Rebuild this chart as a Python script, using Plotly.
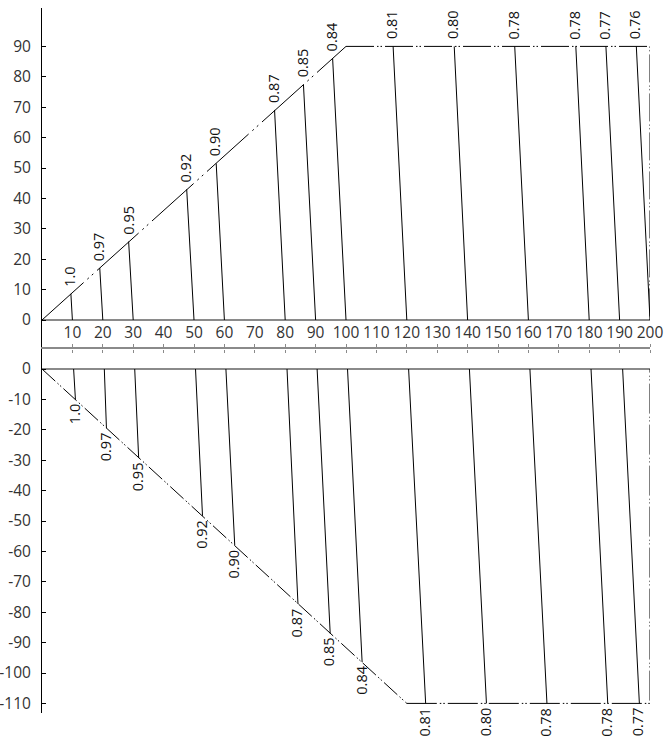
import plotly.graph_objects as go

# ---------------- data ----------------
# upper diagram: outline and rays (tip on outline -> base on x axis)
top_outline_x = [0, 100, 200, 200]
top_outline_y = [0, 90, 90, 0]
top_labels = ["1.0", "0.97", "0.95", "0.92", "0.90", "0.87", "0.85", "0.84",
              "0.81", "0.80", "0.78", "0.78", "0.77", "0.76"]
top_base_x = [10, 20, 30, 50, 60, 80, 90, 100, 120, 140, 160, 180, 190, 200]
top_tip_x = [9.5, 19.0, 28.5, 47.6, 57.3, 76.5, 86.0, 95.6,
             115.5, 135.6, 155.5, 175.6, 185.5, 195.5]
top_tip_y = [8.6, 17.1, 25.8, 43.0, 51.5, 69.1, 77.5, 86.1,
             90, 90, 90, 90, 90, 90]

# lower diagram
bot_outline_x = [0, 120, 200, 200]
bot_outline_y = [0, -110, -110, 0]
bot_labels = ["1.0", "0.97", "0.95", "0.92", "0.90", "0.87", "0.85", "0.84",
              "0.81", "0.80", "0.78", "0.78", "0.77"]
bot_base_x = [10.4, 20.5, 30.5, 50.5, 60.5, 80.6, 90.5, 100.5,
              120.6, 140.6, 160.5, 180.6, 191.0]
bot_tip_x = [11.0, 21.2, 31.8, 52.8, 63.4, 84.2, 94.8, 105.3,
             126.2, 146.2, 166.1, 186.1, 196.5]
bot_tip_y = [-10.1, -19.5, -29.3, -48.3, -58.0, -77.3, -87.0, -96.4,
             -110, -110, -110, -110, -110]

x_ticks = list(range(10, 201, 10))
x_ticktext = [str(v) for v in x_ticks]
top_y_ticks = list(range(0, 91, 10))
top_y_ticktext = [str(v) for v in top_y_ticks]
bot_y_ticks = list(range(0, -111, -10))
bot_y_ticktext = [str(v) for v in bot_y_ticks]

# ---------------- layout geometry ----------------
W, H = 665, 738
ML, MR, MT, MB = 42, 15, 8, 25
PX = 3.04                 # pixels per unit
Y0_TOP = 320              # pixel row of top zero
Y0_BOT = 369              # pixel row of bottom zero
SPLIT = 349               # pixel row of middle x axis
plot_h = H - MT - MB
split_frac = (H - MB - SPLIT) / plot_h

top_range = [-(SPLIT - Y0_TOP) / PX, (Y0_TOP - MT) / PX]
bot_range = [-(H - MB - Y0_BOT) / PX, (Y0_BOT - SPLIT) / PX]

FONT = "Open Sans"
FS = 15.5
FS_LAB = 14.5
TICKCOL = "#333333"
AXGRAY = "#8a8a8a"


def segs(x0, y0, x1, y1):
    xs, ys = [], []
    for a, b, c, d in zip(x0, y0, x1, y1):
        xs += [a, c, None]
        ys += [b, d, None]
    return xs, ys


fig = go.Figure()

# upper rays
xs, ys = segs(top_tip_x, top_tip_y, top_base_x, [0] * len(top_base_x))
fig.add_trace(go.Scatter(x=xs, y=ys, mode="lines", xaxis="x", yaxis="y",
                         line=dict(color="black", width=1), hoverinfo="skip"))
# upper outline
fig.add_trace(go.Scatter(x=top_outline_x[:2], y=top_outline_y[:2], mode="lines",
                         xaxis="x", yaxis="y",
                         line=dict(color="black", width=1,
                                   dash="56px,5px,2px,4px,2px,5px")))
fig.add_trace(go.Scatter(x=top_outline_x[1:], y=top_outline_y[1:], mode="lines",
                         xaxis="x", yaxis="y",
                         line=dict(color="black", width=1,
                                   dash="28px,3px,1.5px,2px,1.5px,3px")))

# lower rays
xs, ys = segs(bot_base_x, [0] * len(bot_base_x), bot_tip_x, bot_tip_y)
fig.add_trace(go.Scatter(x=xs, y=ys, mode="lines", xaxis="x2", yaxis="y2",
                         line=dict(color="black", width=1), hoverinfo="skip"))
# lower outline
fig.add_trace(go.Scatter(x=bot_outline_x[:2], y=bot_outline_y[:2], mode="lines",
                         xaxis="x2", yaxis="y2",
                         line=dict(color="black", width=1,
                                   dash="18px,3px,1.5px,2px,1.5px,3px")))
fig.add_trace(go.Scatter(x=bot_outline_x[1:], y=bot_outline_y[1:], mode="lines",
                         xaxis="x2", yaxis="y2",
                         line=dict(color="black", width=1,
                                   dash="30px,3px,1.5px,2px,1.5px,3px")))

ann = []
for t, x, y in zip(top_labels, top_tip_x, top_tip_y):
    ann.append(dict(x=x, y=y, xref="x", yref="y", text=t, showarrow=False,
                    textangle=-90, xanchor="center", yanchor="bottom",
                    yshift=6, xshift=-1, borderpad=0,
                    font=dict(family=FONT, size=FS_LAB, color="#111")))
for t, x, y in zip(bot_labels, bot_tip_x, bot_tip_y):
    ann.append(dict(x=x, y=y, xref="x2", yref="y2", text=t, showarrow=False,
                    textangle=-90, xanchor="center", yanchor="top",
                    yshift=-3, xshift=-1, borderpad=0,
                    font=dict(family=FONT, size=FS_LAB, color="#111")))

fig.update_layout(
    width=W, height=H,
    margin=dict(l=ML, r=MR, t=MT, b=MB, autoexpand=False),
    paper_bgcolor="white", plot_bgcolor="white",
    showlegend=False,
    font=dict(family=FONT, size=FS, color=TICKCOL),
    annotations=ann,
    xaxis=dict(domain=[0, 1], anchor="y", range=[0, 200], showgrid=False,
               automargin=False,
               zeroline=False, showline=False, showticklabels=False,
               tickvals=x_ticks, ticks="outside", ticklen=3, tickcolor=AXGRAY,
               tickwidth=1),
    xaxis2=dict(domain=[0, 1], anchor="y2", side="top", range=[0, 200],
                automargin=False,
                showgrid=False, zeroline=False, showline=True,
                linecolor=AXGRAY, linewidth=1.5,
                tickvals=x_ticks, ticktext=x_ticktext, ticks="outside",
                ticklen=3, tickcolor=AXGRAY, tickwidth=1,
                tickfont=dict(family=FONT, size=FS, color=TICKCOL)),
    yaxis=dict(domain=[split_frac, 1], anchor="x", range=top_range,
               automargin=False,
               showgrid=False, zeroline=True, zerolinecolor=AXGRAY,
               zerolinewidth=1.5, showline=True, linecolor="black", linewidth=1,
               tickvals=top_y_ticks, ticktext=top_y_ticktext,
               ticks="inside", ticklen=4, tickcolor="black",
               ticklabelstandoff=7,
               tickfont=dict(family=FONT, size=FS, color=TICKCOL)),
    yaxis2=dict(domain=[0, split_frac], anchor="x2", range=bot_range,
                automargin=False,
                showgrid=False, zeroline=True, zerolinecolor=AXGRAY,
                zerolinewidth=1.5, showline=True, linecolor="black", linewidth=1,
                tickvals=bot_y_ticks, ticktext=bot_y_ticktext,
                ticks="inside", ticklen=4, tickcolor="black",
                ticklabelstandoff=7,
                tickfont=dict(family=FONT, size=FS, color=TICKCOL)),
)

fig.write_html("out.html",
               config={"displayModeBar": False},
               post_script="document.body.style.margin='0px';"
                           "document.body.style.overflow='hidden';")
